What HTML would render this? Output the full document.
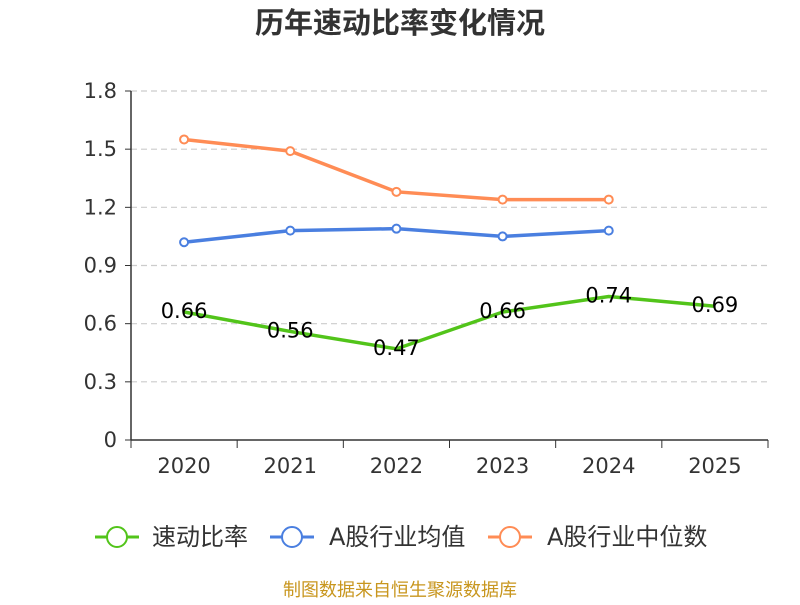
<!DOCTYPE html>
<html><head><meta charset="utf-8"><style>
body{margin:0;background:#fff;}
svg text{font-family:"DejaVu Sans","Noto Sans CJK SC",sans-serif;}
</style></head><body>
<svg width="800" height="600" viewBox="0 0 800 600">
<text x="400" y="33" text-anchor="middle" font-size="29" font-weight="bold" fill="#333" style="font-family:'Noto Sans CJK SC',sans-serif">历年速动比率变化情况</text>
<g id="grid"></g><g id="axes"></g><g id="series"></g>
<g>
<g><line x1="95" y1="537" x2="139" y2="537" stroke="#52c41a" stroke-width="3"/><circle cx="117" cy="537" r="10" fill="#fff" stroke="#52c41a" stroke-width="2"/><text x="152" y="545" font-size="24" fill="#333">速动比率</text></g>
<g><line x1="270" y1="537" x2="314" y2="537" stroke="#4a7fe0" stroke-width="3"/><circle cx="292" cy="537" r="10" fill="#fff" stroke="#4a7fe0" stroke-width="2"/><text x="329" y="545" font-size="24" fill="#333">A股行业均值</text></g>
<g><line x1="488" y1="537" x2="532" y2="537" stroke="#ff8c55" stroke-width="3"/><circle cx="510" cy="537" r="10" fill="#fff" stroke="#ff8c55" stroke-width="2"/><text x="547" y="545" font-size="24" fill="#333">A股行业中位数</text></g>
</g>
<text x="400" y="596" text-anchor="middle" font-size="18" fill="#c8961e">制图数据来自恒生聚源数据库</text>
</svg>
<script>
const categories=["2020","2021","2022","2023","2024","2025"];
const quickRatio=[0.66,0.56,0.47,0.66,0.74,0.69];
const industryAvg=[1.02,1.08,1.09,1.05,1.08];
const industryMedian=[1.55,1.49,1.28,1.24,1.24];
const yTicks=[0,0.3,0.6,0.9,1.2,1.5,1.8];
const yTickLabels=["0","0.3","0.6","0.9","1.2","1.5","1.8"];
const NS="http://www.w3.org/2000/svg";
const L=131,R=768,T=91,B=440,yMax=1.8;
const bw=(R-L)/categories.length;
const xs=i=>L+bw*(i+0.5);
const ys=v=>B-(v/yMax)*(B-T);
function mk(tag,attrs,parent){const e=document.createElementNS(NS,tag);for(const k in attrs)e.setAttribute(k,attrs[k]);document.getElementById(parent).appendChild(e);return e;}
yTicks.forEach((v,i)=>{
 if(v>0){const g=mk('line',{x1:L,x2:R,y1:ys(v),y2:ys(v),stroke:'#ccc','stroke-dasharray':'6,4','stroke-width':1.2},'grid');
 
 }
 const tk=mk('line',{x1:L-6,x2:L,y1:ys(v),y2:ys(v),stroke:'#333'},'axes');
 
 
 const t=mk('text',{x:L-14,y:ys(v)+7,'text-anchor':'end','font-size':21,fill:'#333'},'axes');
 t.textContent=yTickLabels[i];
 
 
});
const ya=mk('line',{x1:L,x2:L,y1:T,y2:B,stroke:'#333','stroke-width':1.5},'axes');


const xa=mk('line',{x1:L,x2:R,y1:B,y2:B,stroke:'#333','stroke-width':1.5},'axes');


for(let i=0;i<=categories.length;i++){const tk=mk('line',{x1:L+bw*i,x2:L+bw*i,y1:B,y2:B+8,stroke:'#333'},'axes');
 
 }
categories.forEach((c,i)=>{const t=mk('text',{x:xs(i),y:B+33,'text-anchor':'middle','font-size':21,fill:'#333'},'axes');
 t.textContent=c;
 
 });
function series(vals,color,name,markers,labels){
 const p=mk('polyline',{points:vals.map((v,i)=>xs(i)+','+ys(v)).join(' '),fill:'none',stroke:color,'stroke-width':3.5},'series');
 
 
 vals.forEach((v,i)=>{
  if(markers){const c=mk('circle',{cx:xs(i),cy:ys(v),r:4,fill:'#fff',stroke:color,'stroke-width':2},'series');
   
   }
  if(labels){const t=mk('text',{x:xs(i),y:ys(v)+6,'text-anchor':'middle','font-size':21,fill:'#000'},'series');
   t.textContent=v.toFixed(2);
   
   }
 });
}
series(industryMedian,'#ff8c55','industry-median',true,false);
series(industryAvg,'#4a7fe0','industry-average',true,false);
series(quickRatio,'#52c41a','quick-ratio',false,true);
</script>
</body></html>
